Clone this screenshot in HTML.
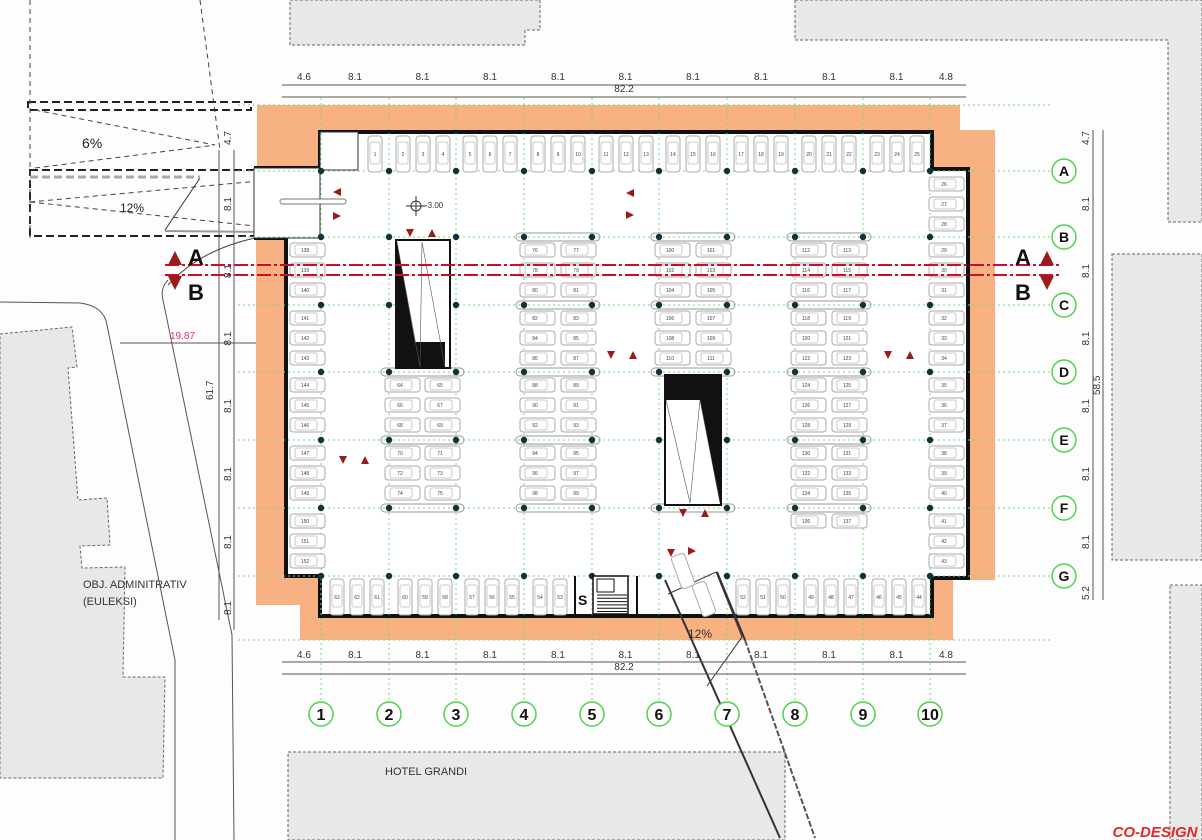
<!DOCTYPE html>
<html><head><meta charset="utf-8"><style>
html,body{margin:0;padding:0;background:#fff;}
svg{display:block;font-family:"Liberation Sans",sans-serif;}
</style></head><body>
<svg id="s" xmlns="http://www.w3.org/2000/svg" width="1202" height="840" viewBox="0 0 1202 840">
<rect width="1202" height="840" fill="#fdfdfd"/>
<g fill="#e7e9e9" stroke="#666" stroke-width="1" stroke-dasharray="3,2">
<polygon points="290,0 540,0 540,30 525,30 525,45 290,45"/>
<polygon points="795,0 1202,0 1202,222 1168,222 1168,40 795,40"/>
<polygon points="1112,254 1202,254 1202,560 1112,560"/>
<polygon points="1170,585 1202,585 1202,840 1170,840"/>
<polygon points="288,752 785,752 785,840 288,840"/>
<polygon points="0,334 72,327 77,367 68,368 78,500 107,498 110,545 80,546 82,568 125,567 123,677 165,677 163,778 0,778"/>
</g>
<text x="83" y="588" font-size="11" fill="#333">OBJ. ADMINITRATIV</text>
<text x="83" y="605" font-size="11" fill="#333">(EULEKSI)</text>
<text x="385" y="775" font-size="11" fill="#333">HOTEL GRANDI</text>
<text x="1202" y="780" font-size="10" fill="#333" transform="rotate(-90 1195 720)">BANIM-AFARIZEM</text>
<g fill="none" stroke="#555" stroke-width="1">
<path d="M0,302 L80,303 Q104,306 107,325 L175,660 L175,840"/>
<path d="M168,280 Q160,288 163,300 L232,635 L234,840"/>
<line x1="219" y1="150" x2="219" y2="620"/>
<line x1="234" y1="150" x2="234" y2="630"/>
<line x1="120" y1="343" x2="285" y2="343"/>
<line x1="1093" y1="130" x2="1093" y2="600"/>
<line x1="1103" y1="130" x2="1103" y2="600"/>
</g>
<text x="170" y="339" font-size="10" fill="#e0306a">19.87</text>
<text font-size="10" fill="#333" transform="translate(213,400) rotate(-90)">61.7</text>
<text font-size="10" fill="#333" transform="translate(1100,395) rotate(-90)">58.5</text>
<g fill="none" stroke="#222" stroke-width="2" stroke-dasharray="8,4">
<rect x="28" y="102" width="223" height="8"/>
<rect x="30" y="170" width="225" height="66"/>
</g>
<g fill="none" stroke="#444" stroke-width="1" stroke-dasharray="5,4">
<line x1="30" y1="0" x2="30" y2="238"/>
<line x1="35" y1="110" x2="215" y2="145"/>
<line x1="35" y1="168" x2="215" y2="145"/>
<line x1="30" y1="202" x2="270" y2="180"/>
<line x1="30" y1="202" x2="255" y2="226"/>
<line x1="200" y1="0" x2="220" y2="150"/>
</g>
<line x1="200" y1="178" x2="165" y2="230" stroke="#333"/>
<line x1="165" y1="231" x2="273" y2="232" stroke="#999" stroke-width="2"/>
<line x1="30" y1="177" x2="200" y2="177" stroke="#aaa" stroke-width="3" stroke-dasharray="8,4"/>
<path d="M255,238 Q200,250 168,285" fill="none" stroke="#444"/>
<text x="82" y="148" font-size="14" fill="#222">6%</text>
<text x="120" y="212" font-size="12" fill="#222">12%</text>
<polygon fill="#f7b183" points="257,105 960,105 960,130 995,130 995,580 953,580 953,640 300,640 300,605 256,605 256,238 257,238"/>
<polygon fill="#fff" points="320,132 932,132 932,169 968,169 968,578 932,578 932,616 320,616 320,576 286,576 286,238 254,238 254,168 320,168"/>
<g fill="none" stroke="#111" stroke-width="4">
<polyline points="254,168 320,168 320,132 932,132 932,169 968,169 968,578 932,578 932,616 320,616 320,576 286,576 286,238 254,238"/>
</g>
<rect x="320" y="132" width="38" height="38" fill="#fff" stroke="#333"/>
<rect x="254" y="168" width="66" height="70" fill="#fff" stroke="#333"/>
<g id="dyn"></g>
<text x="1155" y="837" font-size="15" font-weight="bold" fill="#e8262a" text-anchor="middle" font-style="italic">CO-DESIGN</text>
</svg>
<script>
var NS="http://www.w3.org/2000/svg",g=document.getElementById("dyn");
function el(t,a,txt){var e=document.createElementNS(NS,t);for(var k in a)e.setAttribute(k,a[k]);if(txt!=null)e.textContent=txt;g.appendChild(e);return e;}
var C=[321,389,456,524,592,659,727,795,863,930],R=[171,237,305,372,440,508,576];
C.forEach(function(x){el("line",{x1:x,y1:98,x2:x,y2:700,stroke:"#6fdc6f","stroke-width":1,"stroke-dasharray":"2,3"});});
R.forEach(function(y){el("line",{x1:238,y1:y,x2:1050,y2:y,stroke:"#6fdc6f","stroke-width":1,"stroke-dasharray":"2,3"});});
el("line",{x1:238,y1:640,x2:1050,y2:640,stroke:"#6fdc6f","stroke-width":1,"stroke-dasharray":"2,3"});
el("line",{x1:238,y1:105,x2:1050,y2:105,stroke:"#6fdc6f","stroke-width":1,"stroke-dasharray":"2,3"});
function vst(x,y,n){el("rect",{x:x,y:y,width:14,height:36,rx:3,fill:"#fff",stroke:"#aaa","stroke-width":1});el("rect",{x:x+2,y:y+6,width:10,height:22,rx:2,fill:"none",stroke:"#bbb","stroke-width":0.8});el("text",{x:x+7,y:y+20,"font-size":5,"text-anchor":"middle",fill:"#444"},n);}
function hst(x,y,n){el("rect",{x:x,y:y,width:35,height:14,rx:3,fill:"#fff",stroke:"#aaa","stroke-width":1});el("rect",{x:x+5,y:y+2,width:22,height:10,rx:2,fill:"none",stroke:"#bbb","stroke-width":0.8});el("text",{x:x+15,y:y+9,"font-size":5,"text-anchor":"middle",fill:"#444"},n);}
vst(368,136,1);var n=2;for(var i=1;i<9;i++)for(var j=0;j<3;j++)vst(C[i]+7+j*20,136,n++);
var bot=[[0,[63,62,61]],[1,[60,59,58]],[2,[57,56,55]],[3,[54,53]],[6,[52,51,50]],[7,[49,48,47]],[8,[46,45,44]]];
bot.forEach(function(b){b[1].forEach(function(v,j){vst(C[b[0]]+9+j*20,579,v);});});
n=26;for(var r=0;r<6;r++)for(var j=0;j<3;j++)hst(929,R[r]+6+j*20,n++);
n=138;for(var r=1;r<6;r++)for(var j=0;j<3;j++)hst(290,R[r]+6+j*20,n++);
function blk(c,r,start){for(var j=0;j<3;j++){hst(C[c]-4,R[r]+6+j*20,start+j*2);hst(C[c+1]-31,R[r]+6+j*20,start+j*2+1);}}
blk(1,3,64);blk(1,4,70);
blk(3,1,76);blk(3,2,82);blk(3,3,88);blk(3,4,94);
blk(5,1,100);blk(5,2,106);
blk(7,1,112);blk(7,2,118);blk(7,3,124);blk(7,4,130);
hst(C[7]-4,R[5]+6,136);hst(C[8]-31,R[5]+6,137);
[[1,3],[1,4],[1,5],[3,1],[3,2],[3,3],[3,4],[3,5],[5,1],[5,2],[5,3],[7,1],[7,2],[7,3],[7,4],[7,5],[5,5]].forEach(function(b){el("rect",{x:C[b[0]]-8,y:R[b[1]]-4,width:C[b[0]+1]-C[b[0]]+16,height:8,rx:4,fill:"none",stroke:"#999"});});
el("rect",{x:396,y:240,width:54,height:128,fill:"#fff",stroke:"#111","stroke-width":2});
el("polygon",{points:"397,242 415,342 445,342 445,367 397,367",fill:"#111"});
el("polyline",{points:"397,242 420,367 422,242 445,367",fill:"none",stroke:"#555","stroke-width":0.6});
el("rect",{x:665,y:375,width:56,height:130,fill:"#fff",stroke:"#111","stroke-width":2});
el("polygon",{points:"666,376 720,376 720,503 700,400 666,400",fill:"#111"});
el("polyline",{points:"666,400 690,503 700,400 720,503",fill:"none",stroke:"#555","stroke-width":0.6});
C.forEach(function(x,ci){R.forEach(function(y,ri){el("circle",{cx:x,cy:y,r:3.2,fill:"#133"});});});
el("rect",{x:593,y:576,width:35,height:38,fill:"#fff",stroke:"#111","stroke-width":1.5});
for(var k=0;k<6;k++)el("line",{x1:597,y1:595+k*3.3,x2:627,y2:595+k*3.3,stroke:"#111"});
el("rect",{x:597,y:579,width:17,height:13,fill:"none",stroke:"#111"});
el("text",{x:578,y:605,"font-size":14,"font-weight":"bold",fill:"#111"},"S");
el("line",{x1:637,y1:576,x2:637,y2:614,stroke:"#111","stroke-width":2});
el("line",{x1:575,y1:576,x2:575,y2:614,stroke:"#111","stroke-width":2});
el("line",{x1:665,y1:580,x2:780,y2:838,stroke:"#333","stroke-width":2});
el("line",{x1:717,y1:572,x2:745,y2:640,stroke:"#333","stroke-width":2});
el("line",{x1:745,y1:640,x2:815,y2:838,stroke:"#555","stroke-width":2,"stroke-dasharray":"6,2"});
el("polyline",{points:"668,594 716,572 742,637 707,686",fill:"none",stroke:"#333"});
el("rect",{x:676,y:554,width:14,height:34,rx:3,fill:"#fff",stroke:"#aaa",transform:"rotate(-20 683 571)"});
el("rect",{x:697,y:582,width:14,height:34,rx:3,fill:"#fff",stroke:"#aaa",transform:"rotate(-20 704 599)"});
el("text",{x:688,y:638,"font-size":12,fill:"#333"},"12%");
el("rect",{x:280,y:199,width:66,height:5,rx:2.5,fill:"#fff",stroke:"#777"});
el("text",{x:425,y:208,"font-size":8,fill:"#333"},"-3.00");
el("circle",{cx:416,cy:206,r:5,fill:"none",stroke:"#333"});
el("line",{x1:406,y1:206,x2:426,y2:206,stroke:"#333"});el("line",{x1:416,y1:196,x2:416,y2:216,stroke:"#333"});
[265,275].forEach(function(y){el("line",{x1:165,y1:y,x2:1062,y2:y,stroke:"#c8102e","stroke-width":2,"stroke-dasharray":"14,3,3,3"});});
var dk="#9b1b1b";
function tri(x,y,d,s){s=s||5;var p=d=="u"?[x,y-s,x-s,y+s,x+s,y+s]:d=="d"?[x-s,y-s,x+s,y-s,x,y+s]:d=="l"?[x+s,y-s,x+s,y+s,x-s,y]:[x-s,y-s,x-s,y+s,x+s,y];el("polygon",{points:p.join(","),fill:dk});}
tri(337,192,"l",4);tri(337,216,"r",4);tri(410,233,"d",4);tri(432,233,"u",4);tri(630,193,"l",4);tri(630,215,"r",4);
tri(611,355,"d",4);tri(633,355,"u",4);tri(888,355,"d",4);tri(910,355,"u",4);tri(343,460,"d",4);tri(365,460,"u",4);
tri(683,513,"d",4);tri(705,513,"u",4);tri(671,553,"d",4);tri(692,551,"r",4);
tri(175,258,"u",7);tri(175,283,"d",7);tri(1047,258,"u",7);tri(1047,283,"d",7);
el("text",{x:188,y:265,"font-size":22,"font-weight":"bold",fill:"#111"},"A");
el("text",{x:188,y:300,"font-size":22,"font-weight":"bold",fill:"#111"},"B");
el("text",{x:1015,y:265,"font-size":22,"font-weight":"bold",fill:"#111"},"A");
el("text",{x:1015,y:300,"font-size":22,"font-weight":"bold",fill:"#111"},"B");
var lab=["4.6","8.1","8.1","8.1","8.1","8.1","8.1","8.1","8.1","8.1","4.8"];
[[85,97,80,92],[662,674,658,670]].forEach(function(d){
 el("line",{x1:282,y1:d[0],x2:966,y2:d[0],stroke:"#555"});el("line",{x1:282,y1:d[1],x2:966,y2:d[1],stroke:"#555"});
 for(var i=0;i<11;i++){var a=i==0?287:C[i-1],b=i==10?962:C[i];el("text",{x:(a+b)/2,y:d[2],"font-size":10,"text-anchor":"middle",fill:"#333"},lab[i]);}
 el("text",{x:624,y:d[3],"font-size":10,"text-anchor":"middle",fill:"#333"},"82.2");
});
var rl=[[105,171,"4.7"],[171,237,"8.1"],[237,305,"8.1"],[305,372,"8.1"],[372,440,"8.1"],[440,508,"8.1"],[508,576,"8.1"],[576,610,"5.2"]];
rl.forEach(function(d){el("text",{"font-size":10,fill:"#333","text-anchor":"middle",transform:"translate(1089,"+((d[0]+d[1])/2)+") rotate(-90)"},d[2]);});
var ll=[[105,171,"4.7"],[171,237,"8.1"],[237,305,"8.1"],[305,372,"8.1"],[372,440,"8.1"],[440,508,"8.1"],[508,576,"8.1"],[576,640,"8.1"]];
ll.forEach(function(d){el("text",{"font-size":10,fill:"#333","text-anchor":"middle",transform:"translate(231,"+((d[0]+d[1])/2)+") rotate(-90)"},d[2]);});
C.forEach(function(x,i){el("circle",{cx:x,cy:714,r:12,fill:"#fff",stroke:"#4fd24f","stroke-width":1.5});el("text",{x:x,y:720,"font-size":16,"font-weight":"bold","text-anchor":"middle",fill:"#111"},String(i+1));});
"ABCDEFG".split("").forEach(function(L,i){el("circle",{cx:1064,cy:R[i],r:12,fill:"#fff",stroke:"#4fd24f","stroke-width":1.5});el("text",{x:1064,y:R[i]+5,"font-size":14,"font-weight":"bold","text-anchor":"middle",fill:"#111"},L);});
</script>
</body></html>
